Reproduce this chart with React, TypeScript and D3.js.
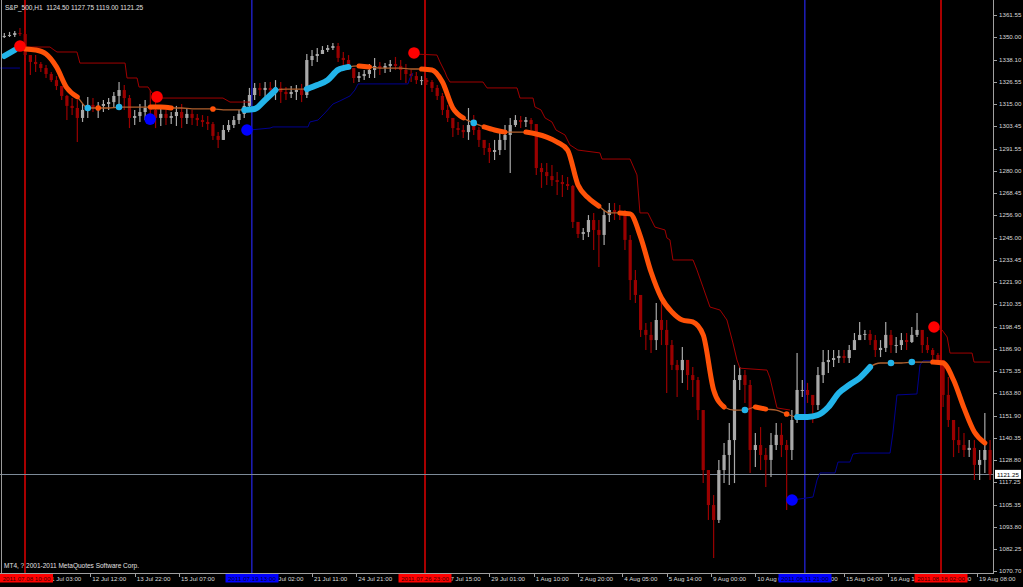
import React from 'react';
import * as d3 from 'd3';

const W = 1023;
const H = 587;

// ---- Price data (aggregated hourly candles, 4 bars per entry) ----
const firstOpen = 1350.0;
const highs = [
  1352.1, 1352.7, 1353.2, 1354.75, 1353.7, 1339.6, 1340.6, 1337.0, 1335.4, 1331.7,
  1329.6, 1324.4, 1319.7, 1318.1, 1317.1, 1315.0, 1318.7, 1318.1, 1316.0, 1317.1,
  1318.1, 1321.3, 1326.5, 1324.9, 1319.7, 1311.9, 1315.0, 1317.1, 1322.3, 1317.1,
  1312.9, 1311.9, 1310.8, 1314.0, 1315.0, 1312.9, 1311.9, 1309.8, 1309.2, 1308.7,
  1305.6, 1300.3, 1304.0, 1306.6, 1308.7, 1311.9, 1317.1, 1323.4, 1326.0, 1326.0,
  1326.5, 1326.5, 1327.5, 1326.5, 1323.9, 1324.4, 1324.9, 1325.5, 1341.15, 1343.25,
  1344.3, 1345.3, 1345.9, 1346.9, 1346.9, 1342.2, 1340.6, 1331.7, 1331.7, 1332.8,
  1335.9, 1339.1, 1337.0, 1336.4, 1338.0, 1339.6, 1338.0, 1335.9, 1332.8, 1331.7,
  1329.6, 1328.6, 1327.5, 1324.9, 1320.75, 1314.5, 1307.7, 1305.6, 1304.0, 1312.9,
  1309.2, 1303.0, 1296.2, 1294.6, 1296.2, 1299.8, 1304.0, 1307.7, 1309.2, 1308.7,
  1308.2, 1307.7, 1304.0, 1284.1, 1284.1, 1283.1, 1279.4, 1277.9, 1276.8, 1272.6,
  1251.7, 1250.1, 1256.9, 1258.0, 1254.3, 1259.5, 1263.2, 1263.2, 1262.2, 1259.5,
  1246.5, 1228.2, 1215.1, 1200.4, 1201.0, 1210.9, 1212.5, 1202.0, 1191.5, 1181.1,
  1187.9, 1178.5, 1177.4, 1172.2, 1154.9, 1123.5, 1110.5, 1128.8, 1137.7, 1148.1,
  1178.5, 1177.4, 1175.8, 1170.6, 1142.9, 1146.0, 1135.1, 1142.9, 1148.1, 1148.1,
  1139.2, 1154.9, 1184.7, 1170.6, 1169.1, 1162.8, 1177.4, 1186.3, 1186.3, 1186.3,
  1186.3, 1186.3, 1188.9, 1195.2, 1201.0, 1196.8, 1196.8, 1194.2, 1191.5, 1201.0,
  1196.8, 1193.1, 1195.2, 1195.2, 1198.35, 1205.7, 1194.2, 1193.1, 1187.4, 1184.7,
  1181.1, 1172.2, 1149.7, 1146.0, 1142.9, 1139.2, 1139.2, 1134.0, 1153.3, 1139.2,
];
const lows = [
  1349.5, 1350.05, 1350.05, 1350.6, 1339.1, 1330.2, 1331.7, 1331.7, 1328.6, 1326.5,
  1322.3, 1317.1, 1306.6, 1309.2, 1295.1, 1305.6, 1307.7, 1310.8, 1307.7, 1310.8,
  1311.9, 1312.9, 1315.0, 1311.9, 1302.4, 1304.0, 1305.6, 1306.6, 1309.2, 1302.4,
  1303.5, 1304.0, 1304.5, 1303.5, 1302.4, 1304.5, 1304.0, 1303.5, 1303.0, 1301.4,
  1296.2, 1292.0, 1296.2, 1300.3, 1302.4, 1304.5, 1307.7, 1311.9, 1317.1, 1319.2,
  1318.7, 1319.7, 1317.1, 1315.5, 1317.1, 1318.1, 1317.1, 1316.0, 1318.1, 1334.9,
  1337.0, 1341.15, 1342.2, 1343.25, 1337.0, 1334.9, 1332.8, 1326.0, 1326.5, 1327.5,
  1328.6, 1328.6, 1330.2, 1331.2, 1331.7, 1332.8, 1327.5, 1326.0, 1326.5, 1325.5,
  1324.9, 1324.9, 1321.3, 1317.1, 1309.2, 1305.6, 1297.7, 1298.8, 1297.2, 1296.2,
  1298.8, 1292.5, 1288.3, 1284.1, 1285.7, 1288.3, 1290.9, 1278.9, 1303.0, 1302.4,
  1303.0, 1301.4, 1277.9, 1271.1, 1272.6, 1272.1, 1267.4, 1266.3, 1270.0, 1250.1,
  1244.9, 1243.9, 1245.4, 1238.6, 1229.7, 1241.2, 1253.3, 1254.3, 1254.3, 1238.6,
  1212.5, 1210.9, 1193.1, 1186.3, 1184.7, 1186.3, 1188.9, 1163.8, 1175.8, 1161.7,
  1169.1, 1165.4, 1161.7, 1149.7, 1116.7, 1097.4, 1077.5, 1095.8, 1116.7, 1115.7,
  1116.7, 1165.4, 1158.6, 1122.0, 1125.1, 1123.5, 1114.6, 1119.9, 1134.0, 1130.3,
  1102.6, 1128.8, 1148.1, 1161.7, 1158.6, 1148.1, 1154.9, 1169.1, 1174.3, 1177.4,
  1179.5, 1179.5, 1179.5, 1186.3, 1191.5, 1191.5, 1188.9, 1182.6, 1182.6, 1185.3,
  1184.7, 1184.7, 1186.3, 1186.3, 1190.0, 1193.1, 1184.7, 1184.7, 1181.1, 1179.5,
  1156.5, 1146.0, 1130.3, 1132.4, 1130.3, 1130.3, 1118.3, 1118.3, 1122.0, 1118.3,
];
const closes = [
  1350.6, 1351.1, 1352.1, 1351.6, 1340.6, 1337.0, 1335.9, 1333.8, 1330.7, 1327.5,
  1324.4, 1319.2, 1314.0, 1312.9, 1307.7, 1311.9, 1314.5, 1312.9, 1314.0, 1315.0,
  1316.0, 1319.2, 1322.3, 1318.1, 1307.7, 1308.7, 1310.8, 1312.9, 1311.9, 1307.7,
  1309.8, 1307.7, 1308.7, 1310.8, 1307.7, 1309.8, 1307.7, 1306.6, 1305.6, 1304.5,
  1298.3, 1296.2, 1301.4, 1304.0, 1306.6, 1309.8, 1314.0, 1319.7, 1323.4, 1322.3,
  1323.4, 1322.3, 1323.4, 1321.3, 1320.2, 1321.3, 1322.3, 1319.7, 1338.0, 1340.1,
  1341.15, 1343.25, 1344.3, 1345.3, 1339.1, 1338.0, 1333.8, 1328.6, 1329.6, 1330.7,
  1332.8, 1334.9, 1333.8, 1334.9, 1335.9, 1334.9, 1332.8, 1330.7, 1329.6, 1327.5,
  1327.5, 1326.5, 1323.4, 1319.2, 1311.9, 1307.7, 1302.4, 1301.4, 1300.3, 1304.0,
  1301.4, 1296.2, 1292.0, 1289.9, 1290.9, 1296.2, 1298.8, 1304.0, 1306.6, 1305.6,
  1306.6, 1304.5, 1281.5, 1279.4, 1277.3, 1275.2, 1274.2, 1273.1, 1272.1, 1253.3,
  1247.0, 1248.0, 1254.3, 1249.1, 1246.5, 1256.9, 1259.5, 1258.5, 1256.9, 1243.9,
  1222.9, 1215.1, 1196.8, 1194.2, 1191.5, 1202.0, 1196.8, 1188.9, 1178.5, 1175.8,
  1181.1, 1173.2, 1170.6, 1154.9, 1123.5, 1105.2, 1097.4, 1123.5, 1131.4, 1139.2,
  1170.6, 1173.2, 1168.0, 1134.0, 1136.6, 1131.4, 1128.8, 1136.6, 1141.9, 1136.6,
  1134.0, 1149.7, 1165.4, 1165.4, 1162.8, 1157.5, 1173.2, 1180.0, 1181.1, 1182.1,
  1183.2, 1182.1, 1186.3, 1191.5, 1194.2, 1194.7, 1191.5, 1186.3, 1187.4, 1194.2,
  1188.9, 1188.9, 1191.5, 1190.5, 1194.2, 1196.8, 1188.9, 1186.3, 1183.7, 1181.1,
  1162.8, 1149.7, 1139.2, 1136.6, 1134.0, 1135.1, 1126.2, 1128.8, 1134.0, 1121.25,
];

// ---- Moving average (every 8 bars) and its trend state: 1 up, -1 down, 0 flat ----
const maValues = [
  1340.1, 1343.25, 1343.8, 1343.25, 1341.15, 1334.4, 1323.4, 1318.7, 1312.9, 1312.9,
  1312.9, 1313.4, 1313.4, 1313.4, 1313.4, 1313.4, 1312.9, 1312.9, 1312.4, 1312.4,
  1312.4, 1311.9, 1311.9, 1311.9, 1312.4, 1317.1, 1322.3, 1322.8, 1322.8, 1322.8,
  1324.9, 1327.5, 1332.8, 1334.4, 1334.9, 1334.4, 1333.8, 1333.8, 1333.8, 1333.3,
  1333.3, 1332.8, 1326.5, 1312.9, 1307.7, 1305.1, 1303.0, 1301.4, 1300.3, 1300.3,
  1300.3, 1299.3, 1297.7, 1295.1, 1290.9, 1272.6, 1265.8, 1261.6, 1258.0, 1258.0,
  1257.5, 1245.4, 1227.1, 1213.5, 1206.2, 1202.0, 1201.0, 1194.2, 1165.4, 1156.5,
  1154.9, 1154.9, 1156.5, 1155.4, 1154.9, 1152.8, 1151.3, 1151.3, 1152.3, 1156.5,
  1163.8, 1168.0, 1171.7, 1177.4, 1179.5, 1179.5, 1179.5, 1180.0, 1180.0, 1180.0,
  1179.5, 1170.6, 1156.0, 1143.4, 1137.7,
];
const maTrend = [
  1, 1, 0, -1, -1, -1, -1, -1, 1, -1,
  0, 1, 0, 0, 0, -1, -1, 0, 0, 0,
  -1, 0, 0, 0, 1, 1, 1, 0, 0, 0,
  1, 1, 1, 1, -1, -1, 0, 0, 0, 0,
  0, -1, -1, -1, -1, 1, -1, -1, -1, 0,
  0, -1, -1, -1, -1, -1, -1, -1, 0, 0,
  -1, -1, -1, -1, -1, -1, -1, -1, -1, -1,
  0, 1, -1, -1, 0, -1, 0, 1, 1, 1,
  1, 1, 1, 1, 0, 1, 0, 1, 0, 0,
  -1, -1, -1, -1, -1,
];

// ---- Trailing stop lines: [bar index, price] ----
const upperStop1 = [[15.6, 1344.8], [37, 1344.8], [40.1, 1343.25], [42.4, 1342.2], [57.7, 1342.2], [60, 1336.4], [94.6, 1336.4], [96.1, 1328.6], [103.8, 1328.6], [105.3, 1323.9], [112.2, 1323.9], [115.3, 1320.75], [119.1, 1318.1], [169.7, 1318.1], [175.1, 1316.0], [190.4, 1316.0]];
const upperStop2 = [[316.2, 1341.15], [333.8, 1340.6], [336.1, 1337.0], [340, 1331.7], [341.5, 1329.1], [343.8, 1326.5], [369.1, 1326.5], [372.2, 1323.4], [395.2, 1323.4], [397.5, 1318.1], [407.5, 1318.1], [409, 1313.4], [413.6, 1311.9], [416.7, 1307.7], [422, 1305.6], [425.1, 1301.4], [432, 1298.8], [435.8, 1293.6], [441.9, 1290.9], [458.8, 1289.4], [460.4, 1286.2], [481.9, 1286.2], [487.2, 1277.9], [489.5, 1258.0], [495.6, 1258.0], [501, 1250.6], [508.7, 1249.1], [510.2, 1244.9], [512.5, 1243.9], [514.8, 1233.4], [530.2, 1233.4], [533.2, 1228.2], [537.8, 1219.3], [543.2, 1208.8], [550.9, 1207.2], [556.2, 1202.0], [560.8, 1190.0], [563.9, 1181.1], [566.2, 1176.8], [586.9, 1175.8], [589.2, 1171.7], [594.6, 1156.0], [604.6, 1154.9]];
const upperStop3 = [[715.8, 1197.8], [721.2, 1196.8], [725.1, 1193.1], [727.3, 1184.7], [744.2, 1184.7], [745.7, 1180.0], [758, 1180.0]];
const lowerStop1 = [[-2, 1333.8], [14, 1333.8]];
const lowerStop2 = [[190.4, 1301.4], [205.8, 1302.4], [208.1, 1303.0], [234.9, 1303.0], [236.4, 1305.6], [242.6, 1306.6], [247.9, 1310.3], [254.1, 1315.0], [259.4, 1316.6], [267.1, 1319.2], [270.9, 1322.3], [273.3, 1325.5], [311.6, 1325.5], [313.1, 1328.6], [315.4, 1331.2]];
const lowerStop3 = [[606.8, 1107.85], [622.2, 1109.4], [625.3, 1118.3], [627.6, 1122.0], [639.1, 1122.0], [641.4, 1127.7], [650.6, 1127.7], [652.9, 1131.9], [658.2, 1132.4], [681.3, 1132.4], [683.5, 1142.9], [686.6, 1162.8], [701.9, 1163.3], [704.3, 1178.5], [706.6, 1180.6], [718.1, 1180.6]];

// ---- Signals ----
const sellSignals = [[14, 1345.3], [119.1, 1318.7], [316.2, 1341.7], [715, 1198.35]];
const buySignals = [[113.8, 1307.1], [188.1, 1301.4], [606.1, 1107.85]];

// ---- Vertical event lines ----
const eventBars = [18, 192, 325, 616, 720];
const eventLabels = ['2011.07.08 10:00', '2011.07.19 13:00', '2011.07.26 23:00', '2011.08.11 21:00', '2011.08.18 02:00'];
const eventKinds = ['sell', 'buy', 'sell', 'buy', 'sell'];

// ---- Axes ----
const priceTicks = [1361.55, 1350.0, 1338.1, 1326.55, 1315.0, 1303.45, 1291.55, 1280.0, 1268.45, 1256.9, 1245.0, 1233.45, 1221.9, 1210.35, 1198.45, 1186.9, 1175.35, 1163.8, 1151.9, 1140.35, 1128.8, 1117.25, 1105.35, 1093.8, 1082.25, 1070.7];
const timeTickBars = [34, 68, 102, 136, 204, 238, 272, 340, 374, 408, 442, 476, 510, 544, 578, 612, 646, 680, 714, 748];
const timeTickLabels = ['11 Jul 03:00', '12 Jul 12:00', '13 Jul 22:00', '15 Jul 07:00', '20 Jul 02:00', '21 Jul 11:00', '24 Jul 21:00', '27 Jul 15:00', '29 Jul 01:00', '1 Aug 10:00', '2 Aug 20:00', '4 Aug 05:00', '5 Aug 14:00', '9 Aug 00:00', '10 Aug 09:00', '11 Aug 19:00', '15 Aug 04:00', '16 Aug 14:00', '18 Aug 00:00', '19 Aug 08:00'];

const symbolTitle = 'S&P_500,H1  1124.50 1127.75 1119.00 1121.25';
const lastPrice = 1121.25;
const copyright = 'MT4, ? 2001-2011 MetaQuotes Software Corp.';

const FONT = '"Liberation Sans", Arial, sans-serif';
const PLOT_R = 993;
const PLOT_B = 573;
const BOX_W = 53;

export default function App() {
  const x = d3.scaleLinear().domain([0, 760]).range([1.7, 1.7 + 760 * 1.3039]);
  const y = d3.scaleLinear().domain([1070.7, 1361.55]).range([571, 15]);
  const crisp = (v: number) => Math.round(v) + 0.5;

  const stepLine = d3.line<number[]>().x((d) => x(d[0])).y((d) => y(d[1]));
  const maLine = d3
    .line<number>()
    .x((_, k) => x(8 * k + 2))
    .y((d) => y(d))
    .curve(d3.curveMonotoneX);

  const runs: { s: number; a: number; b: number }[] = [];
  maTrend.forEach((s, k) => {
    const last = runs[runs.length - 1];
    if (last && last.s === s && last.b === k - 1) last.b = k;
    else runs.push({ s, a: k, b: k });
  });
  const maPts = maValues.map((v, k) => [x(8 * k + 2), y(v)]);
  const runPath = d3.line<number[]>().x((d) => d[0]).y((d) => d[1]).curve(d3.curveMonotoneX);

  const cw = 3.2;
  const boxXs = eventBars.map((b) => Math.max(0, Math.round(x(b)) - BOX_W / 2));

  return (
    <svg width={W} height={H} style={{ position: 'fixed', left: 0, top: 0, background: '#000' }}>
      <defs>
        <clipPath id="plot">
          <rect x={0} y={0} width={PLOT_R} height={PLOT_B} />
        </clipPath>
      </defs>
      <rect x={0} y={0} width={W} height={H} fill="#000" />

      <g clipPath="url(#plot)">
        {eventBars.map((b, i) => (
          <rect
            key={'v' + i}
            x={Math.round(x(b)) - 1}
            y={0}
            width={eventKinds[i] === 'sell' ? 2 : 1.6}
            height={PLOT_B}
            fill={eventKinds[i] === 'sell' ? '#a80000' : '#1c1cb0'}
          />
        ))}
        <line x1={0} x2={PLOT_R} y1={crisp(y(lastPrice))} y2={crisp(y(lastPrice))} stroke="#7d8a98" strokeWidth={1} />

        {closes.map((c, i) => {
          const o = i === 0 ? firstOpen : closes[i - 1];
          const hi = Math.max(highs[i], o, c);
          const lo = Math.min(lows[i], o, c);
          const up = c >= o;
          const col = up ? '#a9a9a9' : '#9a0000';
          const cx = x(4 * i + 2);
          const top = y(Math.max(o, c));
          const bot = y(Math.min(o, c));
          return (
            <g key={'c' + i}>
              <line x1={cx} x2={cx} y1={y(hi)} y2={y(lo)} stroke={col} strokeWidth={1.2} />
              <rect x={cx - cw / 2} y={top} width={cw} height={Math.max(1, bot - top)} fill={col} />
            </g>
          );
        })}

        {[upperStop1, upperStop2, upperStop3].map((seg, i) => (
          <path key={'u' + i} d={stepLine(seg) || ''} fill="none" stroke="#a00000" strokeWidth={1} />
        ))}
        {[lowerStop1, lowerStop2, lowerStop3].map((seg, i) => (
          <path key={'l' + i} d={stepLine(seg) || ''} fill="none" stroke="#000090" strokeWidth={1} />
        ))}

        <path d={maLine(maValues) || ''} fill="none" stroke="#b0602e" strokeWidth={1.3} />
        {runs
          .filter((r) => r.s !== 0)
          .map((r, i) => {
            const col = r.s > 0 ? '#22b4ea' : '#ff5208';
            const wdt = r.s > 0 ? 6 : 5;
            if (r.a === r.b) {
              const p = maPts[r.a];
              return <circle key={'r' + i} cx={p[0]} cy={p[1]} r={wdt / 2 + 0.3} fill={col} />;
            }
            const start = r.a > 0 && maTrend[r.a - 1] === 0 ? r.a - 1 : r.a;
            const pts = maPts.slice(start, r.b + 1);
            return (
              <path key={'r' + i} d={runPath(pts) || ''} fill="none" stroke={col} strokeWidth={wdt} strokeLinecap="round" strokeLinejoin="round" />
            );
          })}

        {sellSignals.map((s, i) => (
          <circle key={'s' + i} cx={x(s[0])} cy={y(s[1])} r={5.8} fill="#ff0000" />
        ))}
        {buySignals.map((s, i) => (
          <circle key={'b' + i} cx={x(s[0])} cy={y(s[1])} r={5.8} fill="#0000ff" />
        ))}
      </g>

      <line x1={1.5} x2={1.5} y1={0} y2={PLOT_B} stroke="#9a9a9a" strokeWidth={1} />
      <line x1={PLOT_R + 0.5} x2={PLOT_R + 0.5} y1={0} y2={PLOT_B + 1} stroke="#a0a0a0" strokeWidth={1} />
      <line x1={0} x2={PLOT_R + 1} y1={PLOT_B + 0.5} y2={PLOT_B + 0.5} stroke="#a0a0a0" strokeWidth={1} />

      {priceTicks.map((p, i) => (
        <g key={'pt' + i}>
          <line x1={PLOT_R + 1} x2={PLOT_R + 4} y1={crisp(y(p))} y2={crisp(y(p))} stroke="#a0a0a0" />
          <text x={999} y={y(p)} dy="0.35em" fontSize={6.2} fontFamily={FONT} fill="#d8d8d8">
            {p.toFixed(2)}
          </text>
        </g>
      ))}
      <rect x={995} y={y(lastPrice) - 4.5} width={26} height={9} fill="#ffffff" />
      <text x={997} y={y(lastPrice)} dy="0.35em" fontSize={6.2} fontFamily={FONT} fill="#000">
        {lastPrice.toFixed(2)}
      </text>

      {timeTickBars.map((b, i) => {
        const tx = x(b);
        const covered = boxXs.some((bx) => tx + 2 >= bx - 1 && tx + 2 <= bx + BOX_W);
        return (
          <g key={'tt' + i}>
            {!covered && <line x1={crisp(tx)} x2={crisp(tx)} y1={PLOT_B} y2={PLOT_B + 4} stroke="#a0a0a0" />}
            <text x={tx + 2} y={581} fontSize={6.2} fontFamily={FONT} fill="#d8d8d8">
              {timeTickLabels[i]}
            </text>
          </g>
        );
      })}
      {eventBars.map((b, i) => {
        const bx = boxXs[i];
        return (
          <g key={'eb' + i}>
            <rect x={bx} y={574} width={BOX_W} height={8.5} fill={eventKinds[i] === 'sell' ? '#ff0000' : '#0000ff'} />
            <text x={bx + BOX_W / 2} y={581} textAnchor="middle" fontSize={6.2} fontFamily={FONT} fill={eventKinds[i] === 'sell' ? '#3a0000' : '#00002e'}>
              {eventLabels[i]}
            </text>
          </g>
        );
      })}

      <text x={5} y={9.5} fontSize={6.5} fontFamily={FONT} fill="#e0e0e0" style={{ whiteSpace: 'pre' }}>
        {symbolTitle}
      </text>
      <text x={4} y={568} fontSize={6.5} fontFamily={FONT} fill="#e0e0e0">
        {copyright}
      </text>
    </svg>
  );
}
